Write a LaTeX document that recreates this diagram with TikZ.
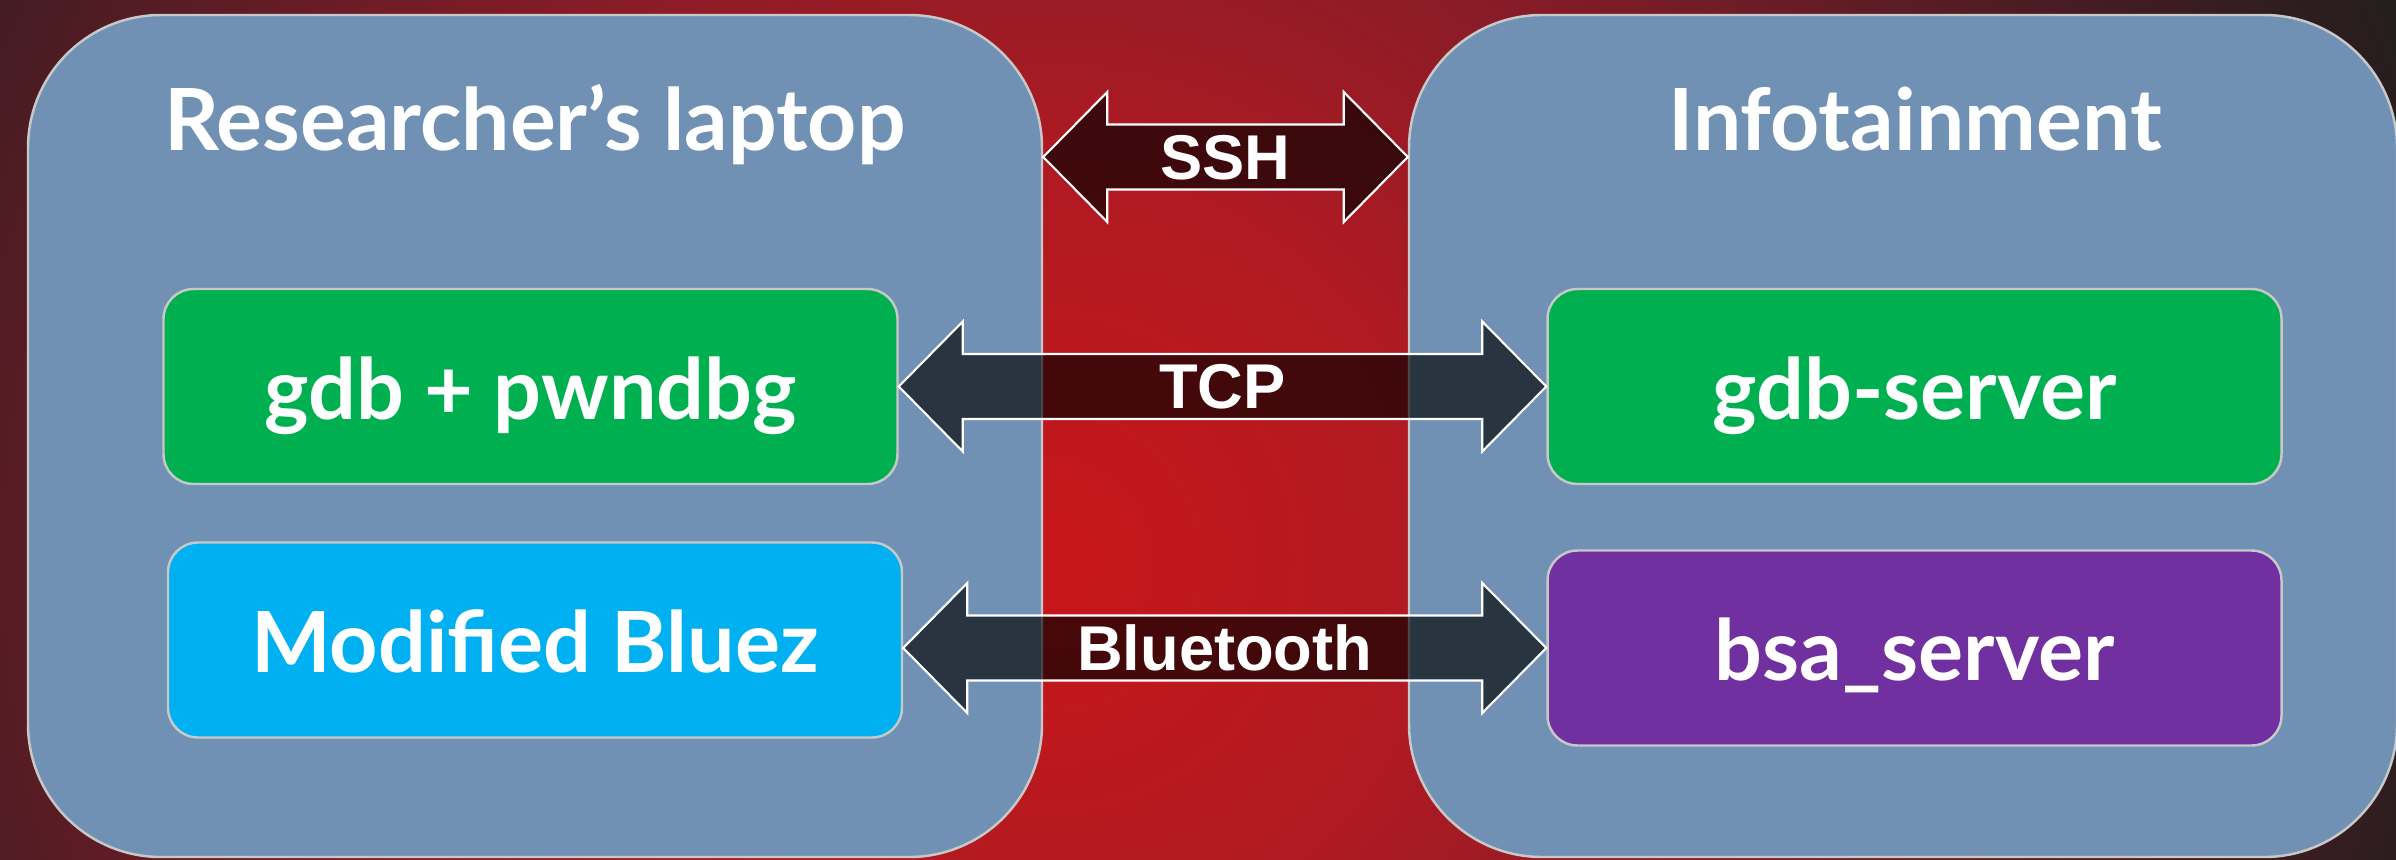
\documentclass[tikz,border=0pt]{standalone}
\usepackage{fontspec}
\setmainfont{Lato}
\newfontfamily\pfeilfont{Liberation Sans}
\usetikzlibrary{calc}
\definecolor{huelle}{HTML}{7091B3}
\definecolor{rahmen}{HTML}{C8C8C8}
\definecolor{gdbgruen}{HTML}{00B050}
\definecolor{bluezblau}{HTML}{00B0F0}
\definecolor{bsalila}{HTML}{7030A0}
\definecolor{glut0}{HTML}{C8161A}
\definecolor{glut1}{HTML}{B01A22}
\definecolor{glut2}{HTML}{8A1C27}
\definecolor{glut3}{HTML}{5E1C25}
\definecolor{glut4}{HTML}{421C22}
\definecolor{dunkel}{HTML}{1E1E1E}
\pgfdeclareradialshading{glut}{\pgfpoint{0bp}{0bp}}{color(0bp)=(glut0); color(6.5bp)=(glut1); color(11.5bp)=(glut2); color(16.5bp)=(glut3); color(20bp)=(glut4); color(25bp)=(dunkel); color(50bp)=(dunkel)}
\begin{document}
\begin{tikzpicture}[>=latex,
  geraet/.style={draw=rahmen,line width=0.7pt,fill=huelle,rounded corners=1.33cm,inner sep=0pt,minimum height=8.42cm},
  titel/.style={text=white,font=\bfseries\fontsize{24.4}{29}\selectfont,anchor=base},
  kasten/.style={draw=rahmen,line width=0.7pt,rounded corners=0.3cm,inner sep=0pt,minimum width=7.34cm,minimum height=1.95cm,
    text=white,font=\bfseries\fontsize{24}{28}\selectfont,text height=0.8cm,text depth=0.15cm},
  pfeil/.style={draw=white,line width=0.6pt,fill=black,fill opacity=0.64,line join=miter},
  pfeiltext/.style={text=white,font=\pfeilfont\bfseries\fontsize{18}{20}\selectfont,inner sep=0pt,text depth=0pt}]
\def\hl{0.64cm}
\def\hw{0.65cm}
\def\sw{0.325cm}
\def\tunnel#1#2#3#4{
\draw[pfeil] let \p1=#1, \p2=#2 in (\p1) -- (\x1+\hl,\y1+\hw) -- (\x1+\hl,\y1+\sw) -- (\x2-\hl,\y1+\sw)
  -- (\x2-\hl,\y1+\hw) -- (\x2,\y1) -- (\x2-\hl,\y1-\hw) -- (\x2-\hl,\y1-\sw) -- (\x1+\hl,\y1-\sw) -- (\x1+\hl,\y1-\hw) -- cycle;
\node[pfeiltext] (#4) at ($#1!0.5!#2$) {#3};
}
\useasboundingbox (0,0) rectangle (23.96,8.59);
\begin{scope}
\clip (0,0) rectangle (23.96,8.59);
\fill[dunkel] (0,0) rectangle (23.96,8.59);
\shade[shading=glut] (10.5,2.99) circle (15);
\end{scope}
\coordinate (links) at (5.35,4.23);
\coordinate (rechts) at (19.03,4.23);
\coordinate (ssh) at (12.25,7.02);
\node[geraet,minimum width=10.14cm] (laptop) at (links) {};
\node[geraet,minimum width=9.88cm] (info) at (rechts) {};
\node[titel] (laptoptitel) at (5.35,7.09) {Researcher’s laptop};
\node[titel] (infotitel) at (19.15,7.09) {Infotainment};
\node[kasten,fill=gdbgruen] (gdb) at (5.305,4.725) {gdb + pwndbg};
\node[kasten,fill=bluezblau] (bluez) at (5.35,2.19) {Modified Bluez};
\node[kasten,fill=gdbgruen] (server) at (19.145,4.725) {gdb-server};
\node[kasten,fill=bsalila] (bsa) at (19.145,2.11) {bsa\_server};
\tunnel{(laptop.east |- ssh)}{(info.west |- ssh)}{SSH}{sshtext}
\tunnel{(gdb.east)}{(server.west)}{TCP}{tcptext}
\tunnel{(bluez.east |- bsa.west)}{(bsa.west)}{Bluetooth}{bttext}
\end{tikzpicture}
\end{document}
